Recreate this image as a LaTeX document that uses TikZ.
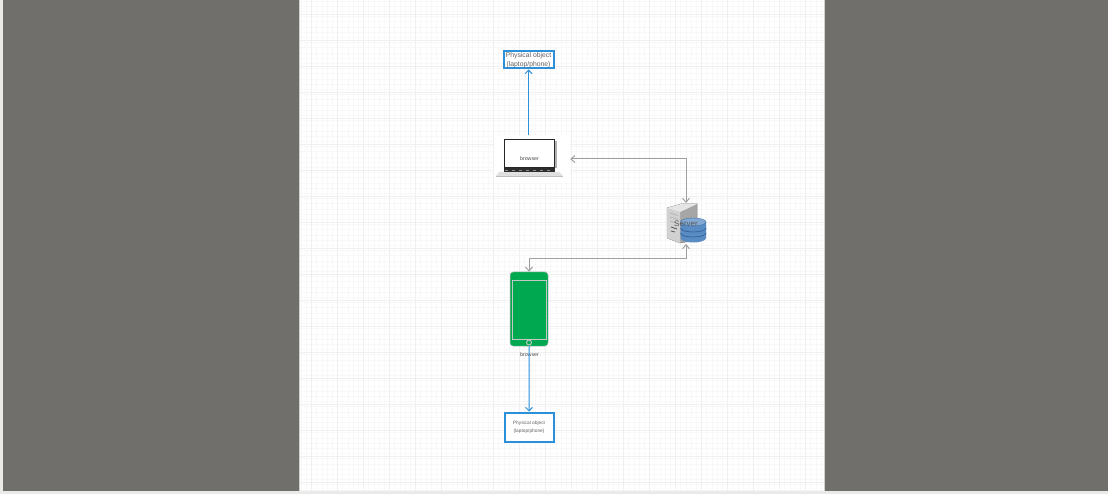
\documentclass[tikz,border=0pt]{standalone}
\usepackage{fontspec}
\setmainfont{Liberation Sans}
\usetikzlibrary{arrows.meta,calc}
\definecolor{frame}{HTML}{706F6C}
\definecolor{barc}{HTML}{EAEAE8}
\definecolor{gridminor}{HTML}{F8F8F8}
\definecolor{gridmajor}{HTML}{F0F0F0}
\definecolor{bluec}{HTML}{2B90D9}
\definecolor{greyline}{HTML}{A0A0A0}
\definecolor{phonec}{HTML}{00A850}
\definecolor{dbc}{HTML}{5A8CC4}
\definecolor{dbd}{HTML}{2F5F96}
\tikzset{
  objbox/.style={draw=bluec,fill=white,inner sep=0pt,align=center,text=black!62,line width=2pt,font=\fontsize{6.8}{9.4}\selectfont},
  blueline/.style={draw=bluec,line width=1pt,-{Straight Barb[length=3.5pt,width=7pt]}},
  greyboth/.style={draw=greyline,line width=1pt,{Straight Barb[length=4pt,width=7pt]}-{Straight Barb[length=4pt,width=7pt]}},
  tiny label/.style={text=black!70,inner sep=0pt,font=\fontsize{5.3}{6}\selectfont},
}
\begin{document}
\begin{tikzpicture}[x=1pt,y=-1pt]
\useasboundingbox (0,0) rectangle (1108,494);
\fill[barc] (0,0) rectangle (1108,494);
\fill[frame] (3,0) rectangle (299,491);
\fill[frame] (825,0) rectangle (1108,491);
\fill[white] (299,0) rectangle (825,491);
% grid
\begin{scope}
\clip (299.5,0) rectangle (824.5,491);
\foreach \i in {0,...,101} {
  \pgfmathsetmacro\gx{301+5.2*\i}
  \draw[gridminor,line width=0.6pt] (\gx,0) -- (\gx,491);
}
\foreach \i in {0,...,95} {
  \pgfmathsetmacro\gy{1+5.2*\i}
  \draw[gridminor,line width=0.6pt] (299,\gy) -- (825,\gy);
}
\foreach \i in {0,...,20} {
  \pgfmathsetmacro\gx{311.4+26*\i}
  \draw[gridmajor,line width=0.6pt] (\gx,0) -- (\gx,491);
}
\foreach \i in {0,...,18} {
  \pgfmathsetmacro\gy{14+26*\i}
  \draw[gridmajor,line width=0.6pt] (299,\gy) -- (825,\gy);
}
\end{scope}
\draw[black!18,line width=0.6pt] (299.3,0) -- (299.3,491) (824.7,0) -- (824.7,491);
% top object
\node[objbox,minimum width=50pt,minimum height=17pt] (top) at (528.5,60) {Physical object\\(laptop/phone)};
% laptop
\node[fill=white,inner sep=0pt,minimum width=76pt,minimum height=48pt] (laptop) at (532,159) {};
\fill[black!30] (555,141) rectangle (556.5,168);
\fill[black!12] (499,172) -- (559,172) -- (563,176) -- (496,176) -- cycle;
\fill[black!25] (496,176) rectangle (563,177.5);
\node[draw=black!85,fill=white,line width=1.6pt,minimum width=50pt,minimum height=28pt,inner sep=0pt] (screen) at (529.5,153.5) {};
\node[tiny label] (lapLabel) at (529.5,159) {browser};
\fill[black!82] (504,168) rectangle (555,172.5);
\draw[black!45,line width=0.7pt,dash pattern=on 3pt off 4pt] (505,170.5) -- (554,170.5);
% server
\coordinate (srvN) at (686,203);
\coordinate (srvS) at (686,244);
\fill[black!35,draw=black!50,line width=0.5pt] (667,208) -- (681,204) -- (697,204) -- (697,240) -- (680,243) -- (667,238) -- cycle;
\fill[black!18] (667,208) -- (680,212) -- (680,243) -- (667,238) -- cycle;
\fill[black!10] (667,208) -- (681,204) -- (697,204) -- (680,212) -- cycle;
\draw[black!65,line width=0.8pt] (671,227) -- (677,229) (671,231) -- (675,232);
\draw[black!35,line width=0.5pt] (670,213) -- (678,215.5) (670,217) -- (678,219.5) (670,221) -- (678,223.5);
% database
\fill[dbc] (680.5,222) -- (680.5,238) arc[start angle=180,end angle=360,x radius=12.75pt,y radius=4.5pt] -- (706,222) -- cycle;
\fill[dbc!75!white,draw=dbd!70!dbc,line width=0.4pt] (693.25,222) ellipse[x radius=12.75pt,y radius=4pt];
\draw[dbd,line width=0.7pt] (680.5,228) arc[start angle=180,end angle=360,x radius=12.75pt,y radius=4pt];
\draw[dbd,line width=0.7pt] (680.5,233) arc[start angle=180,end angle=360,x radius=12.75pt,y radius=4pt];
\node[text=black!65,inner sep=0pt,font=\fontsize{8}{9}\selectfont] (srvlabel) at (686,224) {Server};
% phone
\node[fill=phonec,draw=black!25,line width=0.5pt,rounded corners=3pt,minimum width=38pt,minimum height=74pt,inner sep=0pt] (phone) at (529,309) {};
\node[draw=black!22,line width=0.9pt,minimum width=34pt,minimum height=59pt,inner sep=0pt] (phonescreen) at (529,310) {};
\node[draw=black!22,line width=0.9pt,circle,minimum size=5pt,inner sep=0pt] (button) at (529,342.5) {};
\node[tiny label] (phonelabel) at (529.5,355) {browser};
% bottom object
\node[objbox,minimum width=49pt,minimum height=29pt,font=\fontsize{4.8}{8}\selectfont] (bottom) at (529,427) {Physical object\\(laptop/phone)};
% connectors
\coordinate (srvTurn) at ($(srvS)+(0,15)$);
\coordinate (lapTurn) at (laptop.east -| srvN);
\coordinate (phoneTurn) at (srvTurn -| phone.north);
\coordinate (blueKnee) at ($(phone.south)+(0.2,33)$);
\draw[blueline] (laptop.north -| top.south) -- (top.south);
\draw[blueline] (phone.south) -- (blueKnee) -- (blueKnee -| bottom.north) -- (bottom.north);
\draw[greyboth] (laptop.east) -- (lapTurn) -- (srvN);
\draw[greyboth] (srvS) -- (srvTurn) -- (phoneTurn) -- (phone.north);
\end{tikzpicture}
\end{document}
